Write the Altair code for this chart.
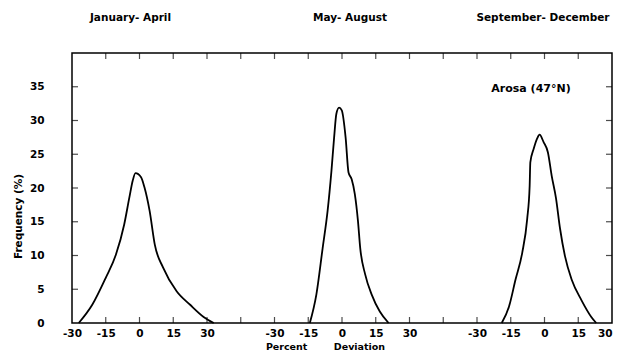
import altair as alt
import pandas as pd

# ---- data (percent deviation, frequency %) ----
seasons = ["January- April", "May- August", "September- December"]
panel_offsets = [0, 90, 180]

jan_x = [-27, -21, -15, -10.5, -6.8, -4.5, -3, -1.8, 0.7, 2.2, 4.5, 6.8, 10.5, 16.5, 22.5, 28.5, 33]
jan_y = [0, 2.7, 6.7, 10.1, 14.6, 18.6, 21.1, 22.2, 21.6, 20.1, 16.6, 11.6, 8.2, 4.7, 2.7, 0.9, 0]

may_x = [-14.3, -11.4, -8.6, -6.4, -4.7, -3.5, -2.5, -1.3, -0.1, 1.6, 2.9, 4.3, 5.7, 7.1, 8.1, 10.3, 13.2, 16.8, 20.7]
may_y = [0, 4.2, 11.1, 16.6, 22.5, 27.5, 31.0, 31.9, 31.5, 27.5, 22.3, 21.3, 19.1, 15.1, 11.1, 7.2, 4.2, 1.7, 0]

sep_x = [-19, -15.8, -12.9, -9.9, -7.7, -6.6, -6.3, -4.8, -3.3, -2.2, -0.4, 1.5, 3.2, 5.1, 6.9, 9.1, 12.1, 16.4, 20.8, 23]
sep_y = [0, 2.4, 6.4, 10.4, 15.4, 20.3, 23.8, 25.8, 27.3, 27.9, 26.8, 25.3, 21.8, 18.5, 14.0, 9.9, 6.4, 3.4, 0.9, 0]

local_ticks = [-30, -15, 0, 15, 30]
y_ticks = [0, 5, 10, 15, 20, 25, 30, 35]
station = "Arosa (47°N)"

# ---- build tables ----
rows = []
for name, off, xs, ys in zip(seasons, panel_offsets, [jan_x, may_x, sep_x], [jan_y, may_y, sep_y]):
    for i, (xv, yv) in enumerate(zip(xs, ys)):
        rows.append({"season": name, "order": i, "gx": xv + off, "local": xv, "freq": yv})
curves = pd.DataFrame(rows)

label_vals = [t + off for off in panel_offsets for t in local_ticks]
tick_vals = [v for v in range(-15, 210, 15)]
xticks_df = pd.DataFrame({"v": tick_vals})
yticks_df = pd.DataFrame({"v": [v for v in y_ticks if v > 0]})

FONT = "DejaVu Sans"
XDOM = [-30, 210]
YDOM = [0, 40]

xscale = alt.Scale(domain=XDOM, nice=False, zero=False)
yscale = alt.Scale(domain=YDOM, nice=False)

label_expr = "datum.value < 45 ? '' + datum.value : (datum.value < 135 ? '' + (datum.value - 90) : '' + (datum.value - 180))"

X_AX = alt.Axis(values=label_vals, labelExpr=label_expr, ticks=False, domain=False, grid=False,
                labelFlush=False, labelOverlap=False, labelPadding=5,
                labelAlign=alt.ExprRef(expr="datum.value >= 210 ? 'right' : 'center'"),
                labelFont=FONT, labelFontSize=10.5, labelFontWeight="bold", labelColor="black",
                title="Percent\u00a0\u00a0\u00a0\u00a0\u00a0\u00a0\u00a0\u00a0Deviation",
                titleFont=FONT, titleFontSize=9.5,
                titleFontWeight="bold", titleColor="black", titleX=253, titleY=23,
                titleBaseline="middle")
Y_AX = alt.Axis(values=y_ticks, ticks=False, domain=False, grid=False, labelFlush=False,
                labelOverlap=False,
                labelPadding=28, labelFont=FONT, labelFontSize=10.5, labelFontWeight="bold",
                labelColor="black",
                title="Frequency (%)", titleFont=FONT, titleFontSize=10.5, titleFontWeight="bold",
                titleColor="black", titleX=-54, titleY=163, titleBaseline="middle")

lines = alt.Chart(curves).mark_line(color="black", strokeWidth=1.8, interpolate="monotone").encode(
    x=alt.X("gx:Q", scale=xscale, axis=X_AX),
    y=alt.Y("freq:Q", scale=yscale, axis=Y_AX),
    detail="season:N",
    order="order:Q",
)

tick_common = dict(color="black", thickness=1.2, size=6)
bottom_ticks = alt.Chart(xticks_df).mark_tick(orient="vertical", yOffset=-3, **tick_common).encode(
    x=alt.X("v:Q", scale=xscale, axis=X_AX), y=alt.YDatum(0, scale=yscale, axis=Y_AX))
top_ticks = alt.Chart(xticks_df).mark_tick(orient="vertical", yOffset=3, **tick_common).encode(
    x=alt.X("v:Q", scale=xscale, axis=X_AX), y=alt.YDatum(40, scale=yscale, axis=Y_AX))
left_ticks = alt.Chart(yticks_df).mark_tick(orient="horizontal", xOffset=3, **tick_common).encode(
    y=alt.Y("v:Q", scale=yscale, axis=Y_AX), x=alt.XDatum(-30, scale=xscale, axis=X_AX))
right_ticks = alt.Chart(yticks_df).mark_tick(orient="horizontal", xOffset=-3, **tick_common).encode(
    y=alt.Y("v:Q", scale=yscale, axis=Y_AX), x=alt.XDatum(210, scale=xscale, axis=X_AX))

text_common = dict(font=FONT, fontSize=10.5, fontWeight="bold", color="black", baseline="middle")
t1 = alt.Chart().mark_text(align="center", dx=-9, **text_common).encode(
    x=alt.XDatum(panel_offsets[0], scale=xscale, axis=X_AX), y=alt.value(-35), text=alt.value(seasons[0]))
t2 = alt.Chart().mark_text(align="center", dx=8, **text_common).encode(
    x=alt.XDatum(panel_offsets[1], scale=xscale, axis=X_AX), y=alt.value(-35), text=alt.value(seasons[1]))
t3 = alt.Chart().mark_text(align="right", dx=65, **text_common).encode(
    x=alt.XDatum(panel_offsets[2], scale=xscale, axis=X_AX), y=alt.value(-35), text=alt.value(seasons[2]))
t4 = alt.Chart().mark_text(align="center", **dict(text_common, fontSize=11)).encode(
    x=alt.XDatum(174, scale=xscale, axis=X_AX), y=alt.YDatum(34.7, scale=yscale, axis=Y_AX),
    text=alt.value(station))

chart = alt.layer(lines, bottom_ticks, top_ticks, left_ticks, right_ticks, t1, t2, t3, t4).properties(
    width=540, height=270,
    padding={"left": 64, "top": 45, "right": 1, "bottom": 27},
    autosize=alt.AutoSizeParams(type="none"),
    background="white",
).configure_view(stroke="black", strokeWidth=1.5).configure_axis(labelOverlap=False)

chart.save("out.html", embed_options={"renderer": "svg", "actions": False})
